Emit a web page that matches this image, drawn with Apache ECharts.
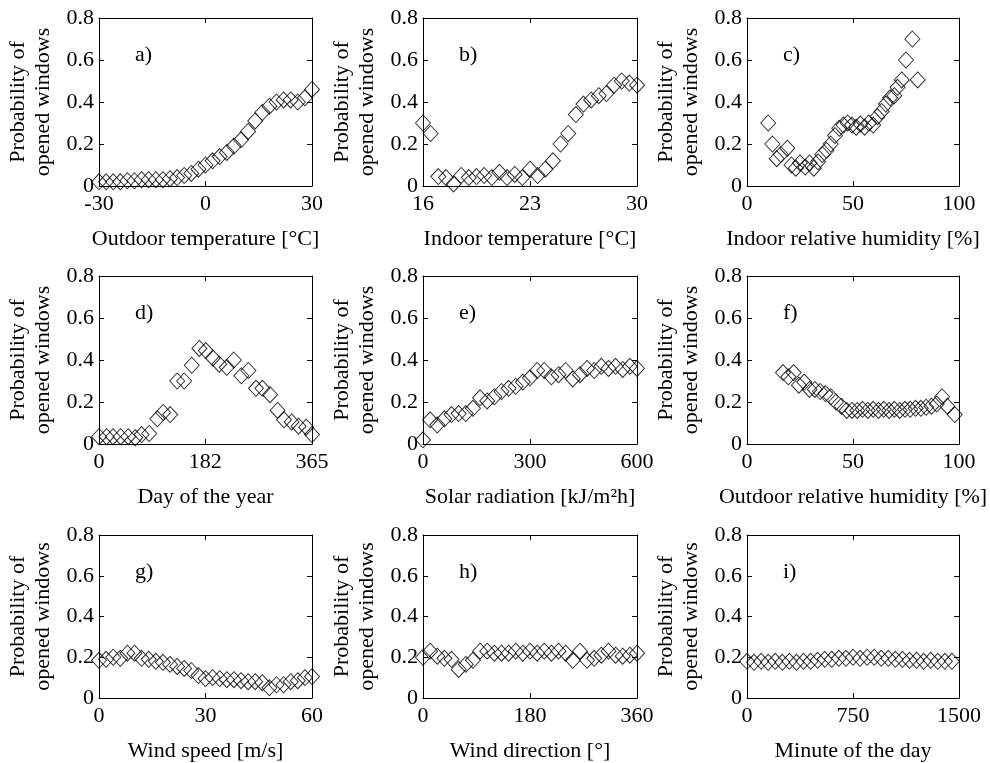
<!DOCTYPE html>
<html><head><meta charset="utf-8">
<script src="https://cdn.jsdelivr.net/npm/echarts@6/dist/echarts.min.js"></script>
<style>html,body{margin:0;padding:0;background:#fff}#c{width:990px;height:763px}</style>
</head><body><div id="c"></div>
<script>
const aX=[-30,-28,-26,-24,-22,-20,-18,-16,-14,-12,-10,-8,-6,-4,-2,0,2,4,6,8,10,12,14,16,18,20,22,24,26,28,30];
const aY=[0.02,0.02,0.02,0.02,0.025,0.025,0.03,0.03,0.03,0.03,0.035,0.04,0.05,0.06,0.08,0.10,0.12,0.14,0.16,0.19,0.22,0.26,0.31,0.35,0.38,0.40,0.41,0.41,0.40,0.42,0.46];
const bX=[16,16.5,17,17.5,18,18.5,19,19.5,20,20.5,21,21.5,22,22.5,23,23.5,24,24.5,25,25.5,26,26.5,27,27.5,28,28.5,29,29.5,30];
const bY=[0.30,0.25,0.045,0.04,0.01,0.05,0.04,0.045,0.05,0.04,0.065,0.04,0.055,0.04,0.08,0.05,0.08,0.12,0.20,0.25,0.34,0.39,0.41,0.43,0.44,0.48,0.50,0.49,0.48];
const cX=[10,12,14,16,19,21,23,25,27.5,29.5,31.5,33.5,35.5,37.5,39.5,41.5,43.5,45.5,47.5,49.5,51.5,53.5,55.5,57.5,59.5,61.5,63.5,65.5,67.5,69.5,71,73,75,78,80.5];
const cY=[0.30,0.20,0.13,0.15,0.18,0.10,0.085,0.11,0.09,0.11,0.085,0.115,0.15,0.17,0.20,0.24,0.275,0.29,0.30,0.29,0.28,0.295,0.28,0.30,0.29,0.33,0.355,0.39,0.42,0.43,0.47,0.505,0.60,0.70,0.505];
const dX=[0,13,24,37,50,62,73,86,100,110,122,134,146,159,172,183,195,206,219,231,244,256,269,280,293,306,317,330,342,355,365];
const dY=[0.035,0.035,0.035,0.035,0.035,0.03,0.045,0.05,0.12,0.15,0.14,0.30,0.30,0.375,0.455,0.445,0.41,0.38,0.365,0.40,0.325,0.35,0.265,0.265,0.235,0.16,0.115,0.105,0.085,0.08,0.045];
const eX=[0,20,40,60,80,100,120,140,160,180,200,220,240,260,280,300,320,340,360,380,400,420,440,460,480,500,520,540,560,580,600];
const eY=[0.02,0.115,0.09,0.12,0.14,0.145,0.145,0.17,0.22,0.205,0.225,0.25,0.265,0.275,0.295,0.315,0.35,0.35,0.32,0.33,0.35,0.31,0.33,0.36,0.35,0.37,0.36,0.37,0.355,0.37,0.36];
const fX=[17,19.5,22,24.5,27,29.5,32,34.5,37,39.5,42,44.5,47,49.5,52,54.5,57,59.5,62,64.5,67,69.5,72,74.5,77,79.5,82,84.5,87,89.5,92,94.5,98];
const fY=[0.34,0.32,0.34,0.28,0.295,0.26,0.26,0.25,0.24,0.225,0.20,0.18,0.16,0.16,0.16,0.165,0.16,0.165,0.16,0.165,0.16,0.165,0.16,0.165,0.165,0.17,0.17,0.175,0.18,0.19,0.225,0.18,0.14];
const gX=[0,2,4,6,8,10,12,14,16,18,20,22,24,26,28,30,32,34,36,38,40,42,44,46,48,50,52,54,56,58,60];
const gY=[0.185,0.19,0.2,0.195,0.22,0.22,0.195,0.19,0.18,0.175,0.165,0.155,0.145,0.135,0.11,0.095,0.1,0.095,0.09,0.09,0.085,0.08,0.08,0.075,0.05,0.065,0.065,0.08,0.085,0.1,0.105];
const hX=[0,12,24,36,48,60,72,84,96,108,120,132,144,156,168,180,192,204,216,228,240,252,264,276,288,300,312,324,336,348,360];
const hY=[0.2,0.23,0.205,0.195,0.19,0.14,0.165,0.185,0.23,0.23,0.22,0.22,0.22,0.23,0.22,0.23,0.22,0.23,0.22,0.23,0.22,0.185,0.23,0.185,0.195,0.21,0.23,0.21,0.205,0.21,0.22];
const iX=[0,50,100,150,200,250,300,350,400,450,500,550,600,650,700,750,800,850,900,950,1000,1050,1100,1150,1200,1250,1300,1350,1400,1450];
const iY=[0.18,0.175,0.18,0.175,0.18,0.175,0.18,0.175,0.18,0.18,0.185,0.19,0.19,0.195,0.195,0.2,0.195,0.2,0.2,0.195,0.195,0.19,0.19,0.185,0.185,0.18,0.185,0.18,0.18,0.18];

const xTicksA=[-30,0,30], xTicksB=[16,23,30], xTicksC=[0,50,100], xTicksD=[0,182,365], xTicksE=[0,300,600],
      xTicksF=[0,50,100], xTicksG=[0,30,60], xTicksH=[0,180,360], xTicksI=[0,750,1500];
const yTicks=[0,0.2,0.4,0.6,0.8];
const xNames=['Outdoor temperature [°C]','Indoor temperature [°C]','Indoor relative humidity [%]','Day of the year','Solar radiation [kJ/m²h]','Outdoor relative humidity [%]','Wind speed [m/s]','Wind direction [°]','Minute of the day'];
const panelLabels=['a)','b)','c)','d)','e)','f)','g)','h)','i)'];
const yName='Probability of\nopened windows';

const panels=[[aX,aY,xTicksA],[bX,bY,xTicksB],[cX,cY,xTicksC],[dX,dY,xTicksD],[eX,eY,xTicksE],[fX,fY,xTicksF],[gX,gY,xTicksG],[hX,hY,xTicksH],[iX,iY,xTicksI]];
const lefts=[99,423,747], widths=[213,214,212], tops=[18,276,535], heights=[168,168,169];
const FONT='Liberation Serif';
const FS=22;
const grid=[],xAxis=[],yAxis=[],series=[],graphic=[];
panels.forEach((p,k)=>{
  const r=Math.floor(k/3), c=k%3;
  grid.push({left:lefts[c],top:tops[r],width:widths[c],height:heights[r],containLabel:false});
  const ticks=p[2];
  const line={show:true,onZero:false,lineStyle:{color:'#000',width:1}};
  const tick={show:true,inside:true,length:5,lineStyle:{color:'#000'},customValues:ticks};
  xAxis.push({type:'value',gridIndex:k,min:ticks[0],max:ticks[2],position:'bottom',
    axisLine:line,axisTick:tick,splitLine:{show:false},
    axisLabel:{customValues:ticks,formatter:v=>String(v),color:'#000',fontFamily:FONT,fontSize:FS,margin:7},
    name:xNames[k],nameLocation:'middle',nameGap:42,nameTextStyle:{color:'#000',fontFamily:FONT,fontSize:FS}});
  xAxis.push({type:'value',gridIndex:k,min:ticks[0],max:ticks[2],position:'top',
    axisLine:line,axisTick:tick,axisLabel:{show:false},splitLine:{show:false}});
  const ytick={show:true,inside:true,length:5,lineStyle:{color:'#000'},customValues:yTicks};
  yAxis.push({type:'value',gridIndex:k,min:0,max:0.8,interval:0.2,position:'left',
    axisLine:line,axisTick:ytick,splitLine:{show:false},
    axisLabel:{customValues:yTicks,formatter:v=>String(v),color:'#000',fontFamily:FONT,fontSize:FS,margin:5},
    name:yName,nameLocation:'middle',nameGap:43,nameTextStyle:{color:'#000',fontFamily:FONT,fontSize:FS,lineHeight:25}});
  yAxis.push({type:'value',gridIndex:k,min:0,max:0.8,interval:0.2,position:'right',
    axisLine:line,axisTick:ytick,axisLabel:{show:false},splitLine:{show:false}});
  series.push({type:'scatter',xAxisIndex:2*k,yAxisIndex:2*k,symbol:'diamond',symbolSize:[15,16],
    itemStyle:{color:'rgba(0,0,0,0)',borderColor:'#000',borderWidth:1},
    data:p[0].map((x,i)=>[x,p[1][i]])});
  graphic.push({type:'text',left:lefts[c]+36,top:tops[r]+26,style:{text:panelLabels[k],font:FS+'px "'+FONT+'"',fill:'#000'}});
});
const chart=echarts.init(document.getElementById('c'),null,{renderer:'canvas'});
chart.setOption({animation:false,backgroundColor:'#fff',grid,xAxis,yAxis,series,graphic});
</script></body></html>
